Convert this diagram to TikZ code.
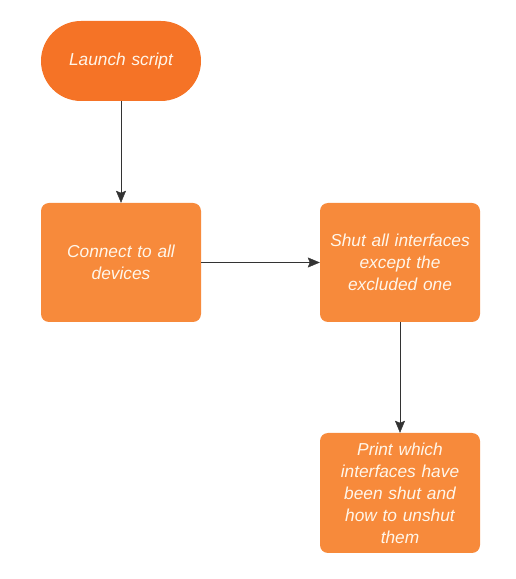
\documentclass[tikz,border=0pt]{standalone}
\usepackage{fontspec}
\setmainfont{Liberation Sans}
\usepackage{xcolor}
\usetikzlibrary{arrows.meta}
\definecolor{startorange}{HTML}{F57326}
\definecolor{boxorange}{HTML}{F78A3B}
\definecolor{textcream}{HTML}{FFF6EA}
\definecolor{linegray}{HTML}{333333}

\begin{document}
\begin{tikzpicture}
  [x=1pt,y=1pt,every node/.style={fill=boxorange,text=textcream,font=\fontsize{17.3}{22}\selectfont\itshape,align=center,inner sep=0pt,minimum width=160pt,text width=152pt,rounded corners=8pt}] % all the nodes share this layout, the start node only changes its corners
    \useasboundingbox (0,0) rectangle (515,579);

    \node[fill=startorange,minimum height=80pt,rounded corners=40pt] (launch) at (121,518) {Launch script};
    \node[minimum height=119pt] (connect) at (121,316.5) {Connect to all\\devices};
    \node[minimum height=119pt] (shut) at (400,316.5) {Shut all interfaces\\except the\\excluded one};
    \node[minimum height=120pt] (print) at (400,86) {Print which\\interfaces have\\been shut and\\how to unshut\\them};

    \draw [linegray,-{Stealth[length=12pt,width=10pt,inset=2pt]}](launch) -- (connect);
    \draw [linegray,-{Stealth[length=12pt,width=10pt,inset=2pt]}](connect) -- (shut);
    \draw [linegray,-{Stealth[length=12pt,width=10pt,inset=2pt]}](shut) -- (print);

\end{tikzpicture}
\end{document}
